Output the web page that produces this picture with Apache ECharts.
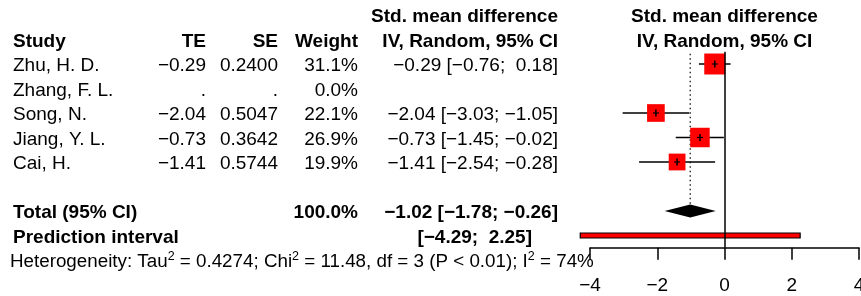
<!DOCTYPE html>
<html>
<head>
<meta charset="utf-8">
<script src="https://cdn.jsdelivr.net/npm/echarts@6/dist/echarts.min.js"></script>
<style>
html, body { margin: 0; padding: 0; background: #fff; }
#main { width: 861px; height: 296px; }
</style>
</head>
<body>
<div id="main"></div>
<script>
// data
let studies = ['Zhu, H. D.', 'Zhang, F. L.', 'Song, N.', 'Jiang, Y. L.', 'Cai, H.'];
let te = [-0.29, null, -2.04, -0.73, -1.41];
let se = [0.2400, null, 0.5047, 0.3642, 0.5744];
let weight = [31.1, 0.0, 22.1, 26.9, 19.9];
let ciLow = [-0.76, null, -3.03, -1.45, -2.54];
let ciHigh = [0.18, null, -1.05, -0.02, -0.28];

let totalEst = -1.02, totalLow = -1.78, totalHigh = -0.26, totalWeight = 100.0;
let predLow = -4.29, predHigh = 2.25;
let tau2 = '0.4274', chi2 = '11.48', df = 3, pText = 'P < 0.01', i2 = 74;
let xTicks = [-4, -2, 0, 2, 4];

// rows: studies 0..4, total 6, prediction 7, heterogeneity 8, headers -2/-1
let rowTotal = 6, rowPred = 7, rowHet = 8;

let FONT = 'Liberation Sans, Arial, Helvetica, sans-serif';
let FS = 19;

function num(v, d) {
    return (v < 0 ? '\u2212' : '') + Math.abs(v).toFixed(d);
}
function padNum(v) {
    return v < 0 ? num(v, 2) : ' ' + num(v, 2);
}
function ciText(e, lo, hi) {
    return num(e, 2) + ' [' + num(lo, 2) + '; ' + padNum(hi) + ']';
}

// column positions (px)
let colStudy = 13, colTE = 206, colSE = 278, colW = 358, colCI = 558, colPred = 532, colPlot = 724.5;

let cells = [];
function cell(x, row, text, align, bold, size) {
    cells.push({x: x, row: row, text: text, align: align, bold: bold, size: size || FS});
}
cell(colCI, -2, 'Std. mean difference', 'right', true);
cell(colPlot, -2, 'Std. mean difference', 'center', true);
cell(colStudy, -1, 'Study', 'left', true);
cell(colTE, -1, 'TE', 'right', true);
cell(colSE, -1, 'SE', 'right', true);
cell(colW, -1, 'Weight', 'right', true);
cell(colCI, -1, 'IV, Random, 95% CI', 'right', true);
cell(colPlot, -1, 'IV, Random, 95% CI', 'center', true);
studies.forEach(function (s, i) {
    cell(colStudy, i, s, 'left', false);
    cell(colTE, i, te[i] == null ? '.' : num(te[i], 2), 'right', false);
    cell(colSE, i, se[i] == null ? '.' : se[i].toFixed(4), 'right', false);
    cell(colW, i, weight[i].toFixed(1) + '%', 'right', false);
    if (te[i] != null) cell(colCI, i, ciText(te[i], ciLow[i], ciHigh[i]), 'right', false);
});
cell(colStudy, rowTotal, 'Total (95% CI)', 'left', true);
cell(colW, rowTotal, totalWeight.toFixed(1) + '%', 'right', true);
cell(colCI, rowTotal, ciText(totalEst, totalLow, totalHigh), 'right', true);
cell(colStudy, rowPred, 'Prediction interval', 'left', true);
cell(colPred, rowPred, '[' + num(predLow, 2) + '; ' + padNum(predHigh) + ']', 'right', true);
cell(colStudy - 3, rowHet, 'Heterogeneity: Tau{sup|2} = ' + tau2 + '; Chi{sup|2} = ' + chi2 +
    ', df = ' + df + ' (' + pText + '); I{sup|2} = ' + i2 + '%', 'left', false, 18.8);

let studyData = [];
studies.forEach(function (s, i) {
    if (te[i] != null) studyData.push([i, te[i], ciLow[i], ciHigh[i], weight[i]]);
});

let boxScale = 3.76;

function renderCell(params, api) {
    let c = cells[params.dataIndex];
    let p = api.coord([c.x, c.row]);
    return {
        type: 'text',
        x: p[0],
        y: p[1] + 2,
        style: {
            text: c.text,
            fontFamily: FONT,
            fontSize: c.size,
            fontWeight: c.bold ? 'bold' : 'normal',
            fill: '#000',
            align: c.align,
            verticalAlign: 'middle',
            lineHeight: 24,
            rich: {
                sup: {fontFamily: FONT, fontSize: 12.5, lineHeight: 12, verticalAlign: 'top', fill: '#000'}
            }
        }
    };
}

function renderStudy(params, api) {
    let row = api.value(0);
    let c = api.coord([api.value(1), row]);
    let lo = api.coord([api.value(2), row]);
    let hi = api.coord([api.value(3), row]);
    let s = boxScale * Math.sqrt(api.value(4));
    return {
        type: 'group',
        children: [
            {type: 'line', shape: {x1: lo[0], y1: c[1], x2: hi[0], y2: c[1]}, style: {stroke: '#000', lineWidth: 1.5}},
            {type: 'rect', shape: {x: c[0] - s / 2, y: c[1] - s / 2, width: s, height: s}, style: {fill: '#ff0000'}},
            {type: 'line', shape: {x1: c[0] - 3, y1: c[1], x2: c[0] + 3, y2: c[1]}, style: {stroke: '#000', lineWidth: 1.2}},
            {type: 'line', shape: {x1: c[0], y1: c[1] - 3.5, x2: c[0], y2: c[1] + 3.5}, style: {stroke: '#000', lineWidth: 1.5}}
        ]
    };
}

function renderSummary(params, api) {
    let c = api.coord([totalEst, rowTotal]);
    let lo = api.coord([totalLow, rowTotal]);
    let hi = api.coord([totalHigh, rowTotal]);
    let top = api.coord([totalEst, -0.5]);
    let pl = api.coord([predLow, rowPred]);
    let ph = api.coord([predHigh, rowPred]);
    let h = 6.5;
    return {
        type: 'group',
        children: [
            {type: 'line', shape: {x1: c[0], y1: top[1] + 2, x2: c[0], y2: c[1] - h},
                style: {stroke: '#000', lineWidth: 1.2, lineDash: [1.5, 3]}},
            {type: 'polygon', shape: {points: [[lo[0], c[1]], [c[0], c[1] - h], [hi[0], c[1]], [c[0], c[1] + h]]},
                style: {fill: '#000'}},
            {type: 'rect', shape: {x: pl[0], y: pl[1] - 2.5, width: ph[0] - pl[0], height: 5},
                style: {fill: '#ff0000', stroke: '#000', lineWidth: 1.2}}
        ]
    };
}

let myChart = echarts.init(document.getElementById('main'), null, {renderer: 'canvas'});

let option = {
    backgroundColor: '#fff',
    animation: false,
    grid: [
        {left: 0, right: 0, top: 2.75, bottom: 23.75, outerBoundsMode: 'none', containLabel: false},
        {left: 590, right: 2, top: 51.75, bottom: 48.25, outerBoundsMode: 'none', containLabel: false}
    ],
    xAxis: [
        {gridIndex: 0, type: 'value', min: 0, max: 861, show: false},
        {
            gridIndex: 1, type: 'value', min: xTicks[0], max: xTicks[xTicks.length - 1], interval: 2,
            axisLine: {show: true, onZero: false, lineStyle: {color: '#000', width: 1.5}},
            axisTick: {show: true, length: 12, lineStyle: {color: '#000', width: 1.5}},
            axisLabel: {
                fontFamily: FONT, fontSize: FS, color: '#000', margin: 29,
                showMinLabel: true, showMaxLabel: true, hideOverlap: false,
                formatter: function (v) { return num(v, 0); }
            },
            splitLine: {show: false}
        }
    ],
    yAxis: [
        {gridIndex: 0, type: 'value', min: -2.5, max: 8.5, inverse: true, show: false},
        {gridIndex: 1, type: 'value', min: -0.5, max: 7.5, inverse: true, show: false}
    ],
    series: [
        {
            type: 'custom', xAxisIndex: 1, yAxisIndex: 1, clip: false,
            data: [[0]],
            renderItem: renderSummary,
            markLine: {
                symbol: 'none', silent: true, label: {show: false},
                lineStyle: {color: '#000', type: 'solid', width: 1.5},
                data: [{xAxis: 0}]
            },
            z: 2
        },
        {
            type: 'custom', xAxisIndex: 1, yAxisIndex: 1, clip: false,
            encode: {x: [1, 2, 3], y: 0},
            data: studyData,
            renderItem: renderStudy,
            z: 3
        },
        {
            type: 'custom', xAxisIndex: 0, yAxisIndex: 0, clip: false,
            encode: {x: 0, y: 1},
            data: cells.map(function (c) { return [c.x, c.row]; }),
            renderItem: renderCell,
            z: 4
        }
    ]
};
myChart.setOption(option);
</script>
</body>
</html>
